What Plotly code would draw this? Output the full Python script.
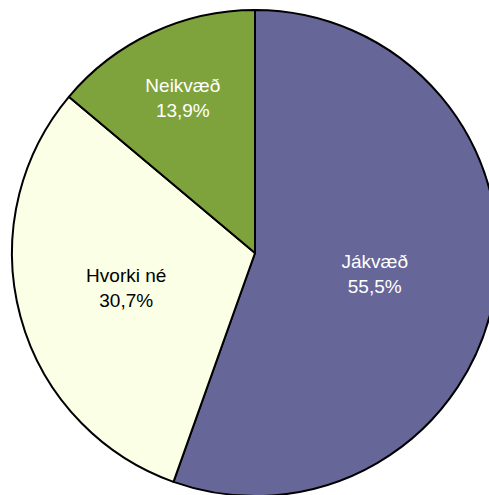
import plotly.graph_objects as go

labels = ["Jákvæð", "Hvorki né", "Neikvæð"]
values = [55.5, 30.7, 13.9]
colors = ["#666699", "#FAFFE6", "#7FA33C"]
text_colors = ["#FFFFFF", "#000000", "#FFFFFF"]

texts = [f"{l}<br>{v:.1f}%".replace(".", ",") for l, v in zip(labels, values)]

fig = go.Figure(go.Pie(
    labels=labels,
    values=values,
    text=texts,
    textinfo="text",
    hoverinfo="label+percent",
    sort=False,
    direction="clockwise",
    rotation=0,
    marker=dict(colors=colors, line=dict(color="#000000", width=2)),
    textposition="inside",
    insidetextorientation="horizontal",
    insidetextfont=dict(color=text_colors, size=19,
                        family="Liberation Sans Narrow, Arial Narrow, Liberation Sans, Arial, sans-serif"),
    showlegend=False,
))

fig.update_layout(
    width=500, height=500, autosize=False,
    margin=dict(l=12, t=10, r=2, b=4, pad=0),
    paper_bgcolor="#FFFFFF",
    plot_bgcolor="#FFFFFF",
    uniformtext=dict(minsize=19, mode="show"),
)

fig.write_html("out.html", config={"displayModeBar": False},
               post_script="document.body.style.overflow='hidden';document.body.style.margin='0';")
